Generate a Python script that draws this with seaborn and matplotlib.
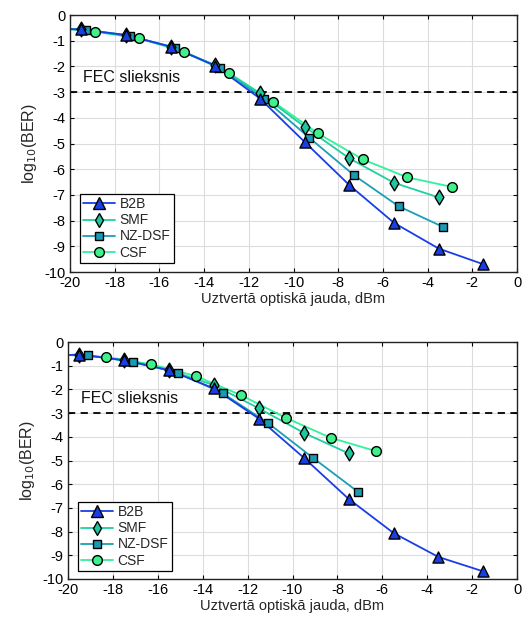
import numpy as np
import pandas as pd
import matplotlib
matplotlib.use("Agg")
import matplotlib.pyplot as plt
from matplotlib.lines import Line2D
import seaborn as sns

sns.set_theme(style="whitegrid")
plt.rcParams['font.family'] = ['Liberation Sans', 'DejaVu Sans']

series_names = ["B2B", "SMF", "NZ-DSF", "CSF"]
series_colors = {"B2B": "#1a3ee6", "SMF": "#1fcf9f", "NZ-DSF": "#1a9fb5", "CSF": "#2ff29a"}
marker_fill = {"B2B": "#1a3ee6", "SMF": "#1ec89e", "NZ-DSF": "#1a9ab3", "CSF": "#3ff08c"}
series_markers = {"B2B": "^", "SMF": "d", "NZ-DSF": "s", "CSF": "o"}
marker_sizes = {"B2B": 8, "SMF": 7.5, "NZ-DSF": 6, "CSF": 7}

# Curve value at the left edge of the axis (-20 dBm)
curve_start = -0.55

# Upper panel
top_b2b_x = [-19.5, -17.5, -15.5, -13.5, -11.5, -9.5, -7.5, -5.5, -3.5, -1.5]
top_b2b_y = [-0.56, -0.78, -1.23, -1.97, -3.25, -4.94, -6.62, -8.09, -9.09, -9.70]
top_smf_x = [-19.5, -17.5, -15.5, -13.5, -11.5, -9.5, -7.5, -5.5, -3.5]
top_smf_y = [-0.55, -0.78, -1.25, -1.95, -3.05, -4.35, -5.58, -6.53, -7.10]
top_nz_x = [-19.3, -17.3, -15.3, -13.3, -11.3, -9.3, -7.3, -5.3, -3.3]
top_nz_y = [-0.58, -0.82, -1.27, -2.05, -3.27, -4.77, -6.23, -7.44, -8.25]
top_csf_x = [-18.9, -16.9, -14.9, -12.9, -10.9, -8.9, -6.9, -4.9, -2.9]
top_csf_y = [-0.65, -0.91, -1.43, -2.25, -3.38, -4.61, -5.62, -6.32, -6.69]

# Lower panel
bot_b2b_x = [-19.5, -17.5, -15.5, -13.5, -11.5, -9.5, -7.5, -5.5, -3.5, -1.5]
bot_b2b_y = [-0.53, -0.77, -1.19, -1.96, -3.23, -4.88, -6.62, -8.06, -9.07, -9.68]
bot_smf_x = [-19.5, -17.5, -15.5, -13.5, -11.5, -9.5, -7.5]
bot_smf_y = [-0.53, -0.77, -1.19, -1.82, -2.80, -3.83, -4.70]
bot_nz_x = [-19.1, -17.1, -15.1, -13.1, -11.1, -9.1, -7.1]
bot_nz_y = [-0.56, -0.84, -1.30, -2.17, -3.41, -4.88, -6.31]
bot_csf_x = [-18.3, -16.3, -14.3, -12.3, -10.3, -8.3, -6.3]
bot_csf_y = [-0.63, -0.94, -1.44, -2.24, -3.20, -4.04, -4.60]

fec_level = -3
x_ticks = list(range(-20, 1, 2))
y_ticks = list(range(0, -11, -1))
xlabel = "Uztvertā optiskā jauda, dBm"
ylabel = r"log$_{10}$(BER)"
fec_label = "FEC slieksnis"

panels = [
    {"B2B": (top_b2b_x, top_b2b_y), "SMF": (top_smf_x, top_smf_y),
     "NZ-DSF": (top_nz_x, top_nz_y), "CSF": (top_csf_x, top_csf_y)},
    {"B2B": (bot_b2b_x, bot_b2b_y), "SMF": (bot_smf_x, bot_smf_y),
     "NZ-DSF": (bot_nz_x, bot_nz_y), "CSF": (bot_csf_x, bot_csf_y)},
]

fig = plt.figure(figsize=(5.28, 6.23), dpi=100)
fig.patch.set_facecolor("white")
axes_rects = [
    [70 / 528, 1 - 272 / 623, 447 / 528, 257 / 623],
    [68 / 528, 1 - 579 / 623, 449 / 528, 237 / 623],
]
legend_boxes = [(80 / 528, 1 - 263 / 623), (78 / 528, 1 - 571 / 623)]
fec_text_y = [-2.45, -2.4]

draw_order = ["CSF", "NZ-DSF", "SMF", "B2B"]

for i, data in enumerate(panels):
    ax = fig.add_axes(axes_rects[i])
    ax.set_facecolor("white")
    for name in draw_order:
        xs, ys = data[name]
        df_line = pd.DataFrame({"x": [-20] + xs, "y": [curve_start] + ys})
        sns.lineplot(data=df_line, x="x", y="y", ax=ax, sort=False,
                     color=series_colors[name], lw=1.3, zorder=2)
    for name in draw_order:
        xs, ys = data[name]
        df_pts = pd.DataFrame({"x": xs, "y": ys})
        sns.scatterplot(data=df_pts, x="x", y="y", ax=ax,
                        marker=series_markers[name], color=marker_fill[name],
                        edgecolor="black", linewidth=1.0,
                        s=marker_sizes[name] ** 2, zorder=3)
    ax.axhline(fec_level, color="black", ls=(0, (4, 3)), lw=1.3, zorder=1)
    ax.text(-19.4, fec_text_y[i], fec_label, fontsize=11.5, color="#111111",
            va="center", ha="left")
    ax.set_xlim(-20, 0)
    ax.set_ylim(-10, 0)
    ax.set_xticks(x_ticks)
    ax.set_yticks(y_ticks)
    ax.set_xticklabels([str(t) for t in x_ticks])
    ax.set_yticklabels([str(t) for t in y_ticks])
    ax.grid(True, color="#dcdcdc", lw=0.8)
    ax.tick_params(direction="in", length=3, width=0.8, labelsize=10.5,
                   colors="black", pad=3, top=True, right=True,
                   bottom=True, left=True)
    for sp in ax.spines.values():
        sp.set_color("#222222")
        sp.set_linewidth(1.0)
    ax.set_xlabel(xlabel, fontsize=10.5, labelpad=1)
    ax.set_ylabel(ylabel, fontsize=11.5, labelpad=4)

    handles = [Line2D([0], [0], color=series_colors[n], lw=1.3,
                      marker=series_markers[n], markerfacecolor=marker_fill[n],
                      markeredgecolor="black", markeredgewidth=1.0,
                      markersize=marker_sizes[n])
               for n in series_names]
    leg = ax.legend(handles, series_names, loc="lower left",
                    bbox_to_anchor=legend_boxes[i], bbox_transform=fig.transFigure,
                    fontsize=10, frameon=True, fancybox=False, framealpha=1,
                    edgecolor="black", borderpad=0.25, labelspacing=0.15,
                    handlelength=2.3, handletextpad=0.3, borderaxespad=0)
    leg.get_frame().set_linewidth(0.9)

fig.savefig("out.png", dpi=100, facecolor="white")
